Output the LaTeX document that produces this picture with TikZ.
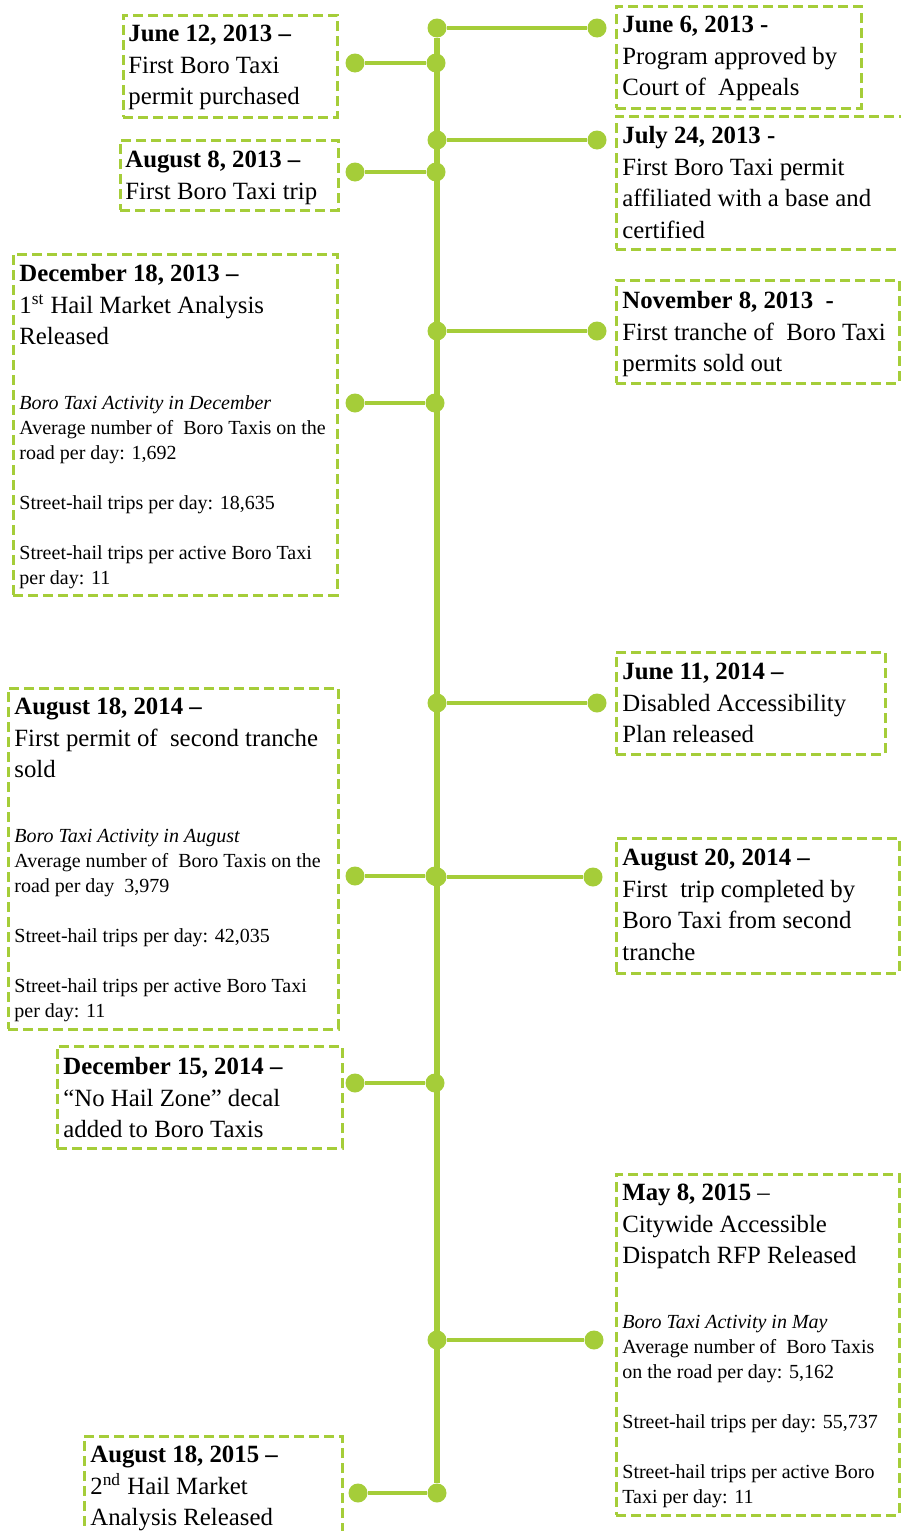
\documentclass[tikz,border=0pt]{standalone}
\usepackage{fontspec}
\setmainfont{Liberation Serif}
\usetikzlibrary{fit}
\definecolor{lime}{RGB}{165,205,57}
\begin{document}
\begin{tikzpicture}[x=0.5pt,y=-0.5pt,
  box/.style={draw=lime, line width=1.5pt, dash pattern=on 5pt off 2.5pt, inner sep=0pt, rectangle},
  dot/.style={circle, fill=lime, inner sep=0pt, minimum size=9.5pt},
  spine/.style={draw=lime, line width=2.8pt},
  arm/.style={draw=lime, line width=2pt},
  big/.style={anchor=north west, inner sep=0pt, align=left, font=\fontsize{12.4}{15.75}\selectfont},
  small/.style={anchor=north west, inner sep=0pt, align=left, font=\fontsize{10}{12.5}\selectfont},
]
\useasboundingbox (0,0) rectangle (900,1531);

% boxes
\node[box, fit={(123,15) (337,117)}] (bL1) {};
\node[box, fit={(120,140) (338,210)}] (bL2) {};
\node[box, fit={(13,254) (337,595)}] (bL3) {};
\node[box, fit={(8,688) (338,1029)}] (bL4) {};
\node[box, fit={(57,1046) (342,1148)}] (bL5) {};
\node[box, fit={(84,1436) (342,1545)}] (bL6) {};
\node[box, fit={(616,6) (861,108)}] (bR1) {};
\node[box, fit={(616,116) (906,249)}] (bR2) {};
\node[box, fit={(616,280) (899,383)}] (bR3) {};
\node[box, fit={(616,652) (885,754)}] (bR4) {};
\node[box, fit={(616,838) (899,973)}] (bR5) {};
\node[box, fit={(616,1174) (899,1515)}] (bR6) {};

% texts
\node[big] (tL1) at (128,25) {\textbf{June 12, 2013 –}\\First Boro Taxi\\permit purchased};
\node[big] (tL2) at (125,151) {\textbf{August 8, 2013 –}\\First Boro Taxi trip};
\node[big] (tL3) at (19,264) {\textbf{December 18, 2013 –}\\1\textsuperscript{st} Hail Market Analysis\\Released};
\node[small] (sL3) at (19,395) {\textit{Boro Taxi Activity in December}\\Average number of\ \ Boro Taxis on the\\road per day: 1,692\\[12.5pt]Street-hail trips per day: 18,635\\[12.5pt]Street-hail trips per active Boro Taxi\\per day: 11};
\node[big] (tL4) at (14,698) {\textbf{August 18, 2014 –}\\First permit of\ \ second tranche\\sold};
\node[small] (sL4) at (14,829) {\textit{Boro Taxi Activity in August}\\Average number of\ \ Boro Taxis on the\\road per day\ \ 3,979\\[12.5pt]Street-hail trips per day: 42,035\\[12.5pt]Street-hail trips per active Boro Taxi\\per day: 11};
\node[big] (tL5) at (63,1057) {\textbf{December 15, 2014 –}\\“No Hail Zone” decal\\added to Boro Taxis};
\node[big] (tL6) at (90,1446) {\textbf{August 18, 2015 –}\\2\textsuperscript{nd} Hail Market\\Analysis Released};

\node[big] (tR1) at (622,16) {\textbf{June 6, 2013 -}\\Program approved by\\Court of\ \ Appeals};
\node[big] (tR2) at (622,126) {\textbf{July 24, 2013 -}\\First Boro Taxi permit\\affiliated with a base and\\certified};
\node[big] (tR3) at (622,291) {\textbf{November 8, 2013\ \ -}\\First tranche of\ \ Boro Taxi\\permits sold out};
\node[big] (tR4) at (622,663) {\textbf{June 11, 2014 –}\\Disabled Accessibility\\Plan released};
\node[big] (tR5) at (622,849) {\textbf{August 20, 2014 –}\\First\ \ trip completed by\\Boro Taxi from second\\tranche};
\node[big] (tR6) at (622,1184) {\textbf{May 8, 2015} –\\Citywide Accessible\\Dispatch RFP Released};
\node[small] (sR6) at (622,1315) {\textit{Boro Taxi Activity in May}\\Average number of\ \ Boro Taxis\\on the road per day: 5,162\\[12.5pt]Street-hail trips per day: 55,737\\[12.5pt]Street-hail trips per active Boro\\Taxi per day: 11};

% spine dots
\node[dot] (pR1) at (437,28) {};
\node[dot] (pL1) at (436,63) {};
\node[dot] (pR2) at (437,140) {};
\node[dot] (pL2) at (436,172) {};
\node[dot] (pR3) at (437,331) {};
\node[dot] (pL3) at (435,403) {};
\node[dot] (pR4) at (437,703) {};
\node[dot] (pL4) at (435,876) {};
\node[dot] (pR5) at (437,877) {};
\node[dot] (pL5) at (435,1083) {};
\node[dot] (pR6) at (437,1340) {};
\node[dot] (pL6) at (437,1493) {};

% end dots
\node[dot] (dL1) at (355,63) {};
\node[dot] (dL2) at (355,172) {};
\node[dot] (dL3) at (355,403) {};
\node[dot] (dL4) at (355,876) {};
\node[dot] (dL5) at (355,1083) {};
\node[dot] (dL6) at (358,1493) {};
\node[dot] (dR1) at (597,28) {};
\node[dot] (dR2) at (597,140) {};
\node[dot] (dR3) at (597,331) {};
\node[dot] (dR4) at (597,703) {};
\node[dot] (dR5) at (593,877) {};
\node[dot] (dR6) at (594,1340) {};

% connectors
\draw[spine] (pR1) -- (pL6);
\foreach \i in {1,...,6} {
  \draw[arm] (dL\i) -- (pL\i);
  \draw[arm] (pR\i) -- (dR\i);
}
\end{tikzpicture}
\end{document}
